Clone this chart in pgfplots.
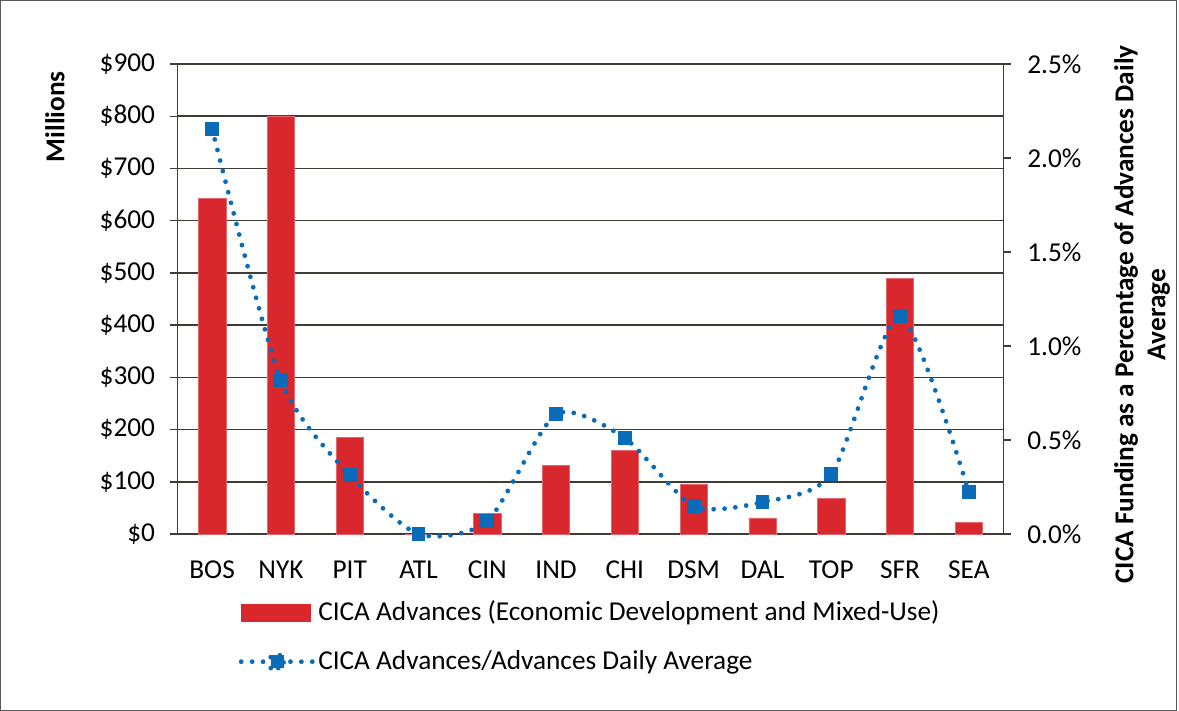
\documentclass[border=0pt]{standalone}
\usepackage{pgfplots}
\pgfplotsset{compat=1.18}
\usepackage{fontspec}
\setmainfont{Carlito}
\definecolor{barred}{HTML}{D9272E}
\definecolor{lineblue}{HTML}{0A6CB9}
\definecolor{gridc}{HTML}{413B36}
\newcommand{\chartfont}{\fontsize{20.5}{24}\selectfont}

\pgfplotstableread{
x  adv  pct
0  642  2.155
1  800  0.817
2  185  0.313
3  0    0.000
4  40   0.069
5  132  0.637
6  160  0.510
7  96   0.149
8  31   0.170
9  69   0.318
10 489  1.157
11 23   0.223
}\cicadata

\begin{document}
\chartfont
\begin{tikzpicture}[x=0.75pt,y=0.75pt]
\draw[gray!70!black, line width=0.8pt] (0.5,0.5) rectangle (1178.5,711.5);
\begin{axis}[
 at={(133.5pt,132.75pt)}, anchor=south west, scale only axis,
 width=620.25pt, height=353.25pt,
 xmin=-0.5, xmax=11.5, ymin=0, ymax=900,
 xtick={0,...,11},
 xticklabels={BOS,NYK,PIT,ATL,CIN,IND,CHI,DSM,DAL,TOP,SFR,SEA},
 minor xtick={-0.5,0.5,...,11.5},
 ytick={0,100,...,900},
 yticklabels={\$0,\$100,\$200,\$300,\$400,\$500,\$600,\$700,\$800,\$900},
 axis y line*=left, axis x line*=bottom,
 axis line style={gridc, line width=1.1pt},
 every tick/.style={gridc, line width=1pt},
 tick align=outside, major tick length=6pt, minor tick length=6pt,
 xtick style={draw=none}, minor x tick style={gridc, line width=1pt},
 ymajorgrids, grid style={gridc, line width=1.1pt},
 ticklabel style={font=\chartfont},
 xticklabel style={yshift=-7pt},
 yticklabel style={xshift=-4pt},
 separate axis lines,
 clip=false,
]
\addplot[ybar, bar width=20.5pt, fill=barred, draw=barred!70!white, line width=0.4pt, bar shift=0pt]
 table[x=x, y=adv] {\cicadata};
\end{axis}
\begin{axis}[
 at={(133.5pt,132.75pt)}, anchor=south west, scale only axis,
 width=620.25pt, height=353.25pt,
 xmin=-0.5, xmax=11.5, ymin=0, ymax=2.5,
 axis x line=none, axis y line*=right,
 axis line style={gridc, line width=1.1pt},
 ytick={0,0.5,...,2.5},
 yticklabels={0.0\%,0.5\%,1.0\%,1.5\%,2.0\%,2.5\%},
 ytick style={gridc, line width=1pt},
 tick align=outside, major tick length=6pt,
 ticklabel style={font=\chartfont},
 yticklabel style={xshift=5pt},
 clip=false,
 legend style={draw=none, fill=none, at={(0.5,-0.13)}, anchor=north,
   row sep=15pt, font=\chartfont},
 legend cell align=left,
]
\addlegendimage{area legend, fill=barred, draw=none,
  legend image code/.code={\fill[barred] (0cm,-0.23cm) rectangle (1.85cm,0.23cm);}}
\addlegendentry{CICA Advances (Economic Development and Mixed-Use)}
\addplot[smooth, tension=0.42, lineblue, line width=3.6pt, line cap=round,
  dash pattern=on 0pt off 8.2pt,
  mark=square*, mark size=4.8pt, mark options={solid, fill=lineblue, draw=lineblue, line width=0pt},
  legend image code/.code={
    \draw[lineblue, line width=3.6pt, line cap=round, dash pattern=on 0pt off 8.2pt] (0cm,0cm) -- (0.6cm,0cm);
    \draw[lineblue, line width=3.6pt, line cap=round, dash pattern=on 0pt off 8.2pt] (1.3cm,0cm) -- (1.9cm,0cm);
    \fill[lineblue] (0.95cm,0cm) +(-4.8pt,-4.8pt) rectangle +(4.8pt,4.8pt);}]
 table[x=x, y=pct] {\cicadata};
\addlegendentry{CICA Advances/Advances Daily Average}
\end{axis}
\node[rotate=90, font=\bfseries\chartfont] at (55,595) {Millions};
\node[rotate=90, align=center, font=\bfseries\chartfont] at (1144,397)
 {CICA Funding as a Percentage of Advances Daily\\Average};
\end{tikzpicture}
\end{document}
